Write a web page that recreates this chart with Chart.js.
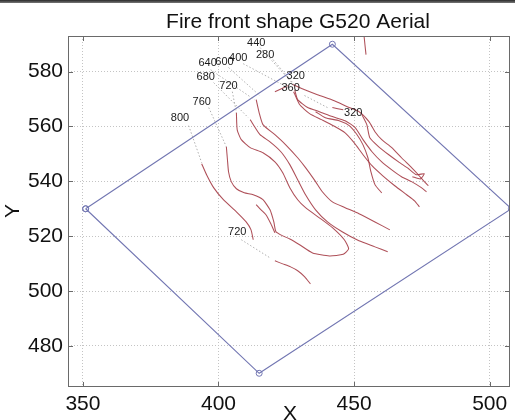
<!DOCTYPE html>
<html><head><meta charset="utf-8">
<script src="https://cdn.jsdelivr.net/npm/chart.js@4.4.1/dist/chart.umd.min.js"></script>
<style>
html,body{margin:0;padding:0;background:#fff;overflow:hidden}
#wrap{position:relative;width:515px;height:420px}
#bar{position:absolute;left:0;top:0;width:515px;height:3px;background:linear-gradient(#2a2a2a,#777)}
</style></head>
<body><div id="wrap"><canvas id="c" width="515" height="420"></canvas><div id="bar"></div></div>
<script>
// ---- ticks ----
const xTicks = [350, 400, 450, 500];
const yTicks = [480, 500, 520, 540, 560, 580];
const titleText = 'Fire front shape G520 Aerial';

// ---- area polygon (blue) ----
const areaX = [351, 442, 508, 415, 351];
const areaY = [530, 590, 530, 470, 530];

// ---- fire fronts (red) ----
const frontA1x = [393.8, 395.6, 398.2, 401.8, 406.6, 410.2, 412.0, 412.8];
const frontA1y = [546.4, 542.4, 537.7, 533.3, 528.9, 525.2, 522.3, 518.7];
const frontA2x = [420.8, 423.7, 426.6, 429.2, 431.8, 433.9];
const frontA2y = [511.0, 509.9, 508.8, 507.4, 505.2, 502.6];
const frontBCx = [402.9, 403.3, 403.7, 404.7, 406.6, 409.5, 412.8, 416.4, 419.0, 420.4, 421.2, 423.7, 426.3, 429.9, 434.7, 440.9, 446.0, 448.0, 446.4, 442.0, 437.2, 432.1, 429.2, 426.3, 423.7, 420.8, 416.4, 411.7, 408.4, 406.9, 406.6];
const frontBCy = [552.6, 547.9, 543.5, 539.9, 537.3, 535.8, 535.1, 533.3, 529.6, 525.2, 521.6, 520.1, 519.0, 516.9, 513.9, 512.8, 513.4, 515.4, 518.7, 523.1, 526.7, 530.4, 533.3, 537.7, 543.1, 547.1, 550.4, 552.3, 555.2, 558.8, 565.0];
const frontInx = [413.9, 415.7, 417.5, 419.3, 420.8];
const frontIny = [531.5, 529.6, 527.8, 524.5, 521.2];
const frontDx = [411.7, 412.8, 415.3, 419.0, 423.0, 426.3, 429.2, 432.1, 435.8, 440.2, 445.6, 451.8, 457.7, 462.4];
const frontDy = [562.5, 560.7, 557.0, 554.4, 550.8, 546.1, 540.6, 535.1, 529.6, 525.2, 521.6, 518.3, 516.1, 514.3];
const frontEx = [413.9, 415.0, 416.4, 420.8, 424.8, 429.2, 432.1, 435.8, 438.3, 442.0, 446.7, 451.8, 457.7, 463.2];
const frontEy = [569.8, 565.0, 560.7, 557.0, 553.3, 548.6, 545.0, 539.9, 536.2, 532.5, 530.4, 528.2, 525.2, 522.3];
const frontR1x = [427.4, 431.8, 436.5, 442.7, 447.5, 451.8, 455.5, 457.7, 460.2, 463.9, 467.5, 471.2, 473.7, 475.9, 477.4];
const frontR1y = [575.3, 573.4, 571.6, 569.4, 567.2, 565.4, 561.8, 558.1, 555.2, 552.3, 548.6, 545.0, 542.4, 539.9, 538.4];
const frontR2x = [428.1, 429.2, 432.9, 437.2, 442.0, 446.7, 450.4, 453.3, 456.6, 460.2, 463.9, 467.5, 471.2, 474.8, 476.7];
const frontR2y = [573.4, 569.8, 566.9, 565.4, 563.6, 562.1, 559.6, 555.2, 550.8, 547.1, 544.2, 541.7, 539.9, 537.7, 536.2];
const frontR3x = [427.7, 429.9, 433.6, 438.0, 442.3, 446.7, 450.0, 453.3, 456.6, 460.6, 465.0, 469.4, 472.3, 474.1];
const frontR3y = [572.7, 568.0, 564.7, 562.5, 560.3, 557.7, 554.1, 549.7, 545.7, 542.0, 538.4, 535.1, 532.9, 530.7];
const frontR4x = [435.8, 439.4, 444.5, 448.2, 451.1, 453.3, 455.1, 456.2, 457.7, 460.2];
const frontR4y = [565.4, 563.2, 562.1, 560.3, 557.0, 553.3, 548.6, 543.5, 538.8, 535.8];
const frontR5x = [452.9, 454.7, 455.8, 459.1, 462.8, 466.4, 470.1, 473.0, 475.9, 474.5, 471.5];
const frontR5y = [564.3, 560.7, 555.9, 552.6, 549.7, 547.1, 544.6, 542.4, 542.8, 540.9, 541.7];
const frontS1x = [442.0, 446.0];
const frontS1y = [566.9, 566.1];
const frontS2x = [420.8, 425.6];
const frontS2y = [572.7, 574.9];
const frontS3x = [453.7, 454.0, 454.4];
const frontS3y = [592.8, 589.9, 586.2];

// ---- time labels ----
const labelText = ['440', '640', '600', '400', '280', '680', '720', '760', '800', '320', '360', '320', '720'];
const labelX = [413.9, 396.0, 402.2, 407.3, 417.2, 395.3, 403.7, 393.8, 385.8, 428.5, 426.6, 449.7, 406.9];
const labelY = [590.6, 583.3, 583.7, 585.1, 586.2, 578.2, 574.9, 569.0, 563.2, 578.5, 574.2, 565.0, 521.6];

// ---- dotted leader lines (start/end) ----
const leadX0 = [389.0, 396.4, 405.1, 398.2, 397.1, 403.7, 409.1, 415.3, 420.1, 440.2, 408.4];
const leadY0 = [560.3, 566.9, 572.7, 576.0, 580.7, 581.5, 582.9, 588.8, 584.4, 566.9, 518.7];
const leadX1 = [393.8, 402.9, 406.6, 411.0, 413.2, 415.3, 425.6, 427.4, 427.7, 431.1, 419.0];
const leadY1 = [546.8, 552.6, 565.0, 563.2, 569.8, 571.2, 574.2, 575.6, 575.6, 571.6, 512.1];

const zip = (xs, ys) => xs.map((x, i) => ({x, y: ys[i]}));
const RED = 'rgba(165,60,70,0.9)';
const BLUE = '#7276b2';

const datasets = [];
leadX0.forEach((x0, i) => {
  datasets.push({data: [{x: x0, y: leadY0[i]}, {x: leadX1[i], y: leadY1[i]}],
    showLine: true, borderColor: '#b0b0b0', borderWidth: 1, borderDash: [1.5, 2], pointRadius: 0});
});
[[frontA1x, frontA1y], [frontA2x, frontA2y], [frontBCx, frontBCy], [frontInx, frontIny],
 [frontDx, frontDy], [frontEx, frontEy], [frontR1x, frontR1y], [frontR2x, frontR2y],
 [frontR3x, frontR3y], [frontR4x, frontR4y], [frontR5x, frontR5y], [frontS1x, frontS1y],
 [frontS2x, frontS2y], [frontS3x, frontS3y]].forEach(([xs, ys]) => {
  datasets.push({data: zip(xs, ys), showLine: true, borderColor: RED, borderWidth: 1.05,
    pointRadius: 0, tension: 0.18});
});
datasets.push({data: zip(areaX, areaY), showLine: true, borderColor: BLUE, borderWidth: 1.1,
  pointRadius: 3, pointBorderColor: BLUE, pointBackgroundColor: 'rgba(0,0,0,0)', pointBorderWidth: 1,
  tension: 0, clip: 0});

const FONT = '"Liberation Sans", Arial, Helvetica, sans-serif';

const decor = {
  id: 'decor',
  afterDraw(chart) {
    const {ctx, chartArea: a, scales: {x, y}} = chart;
    ctx.save();
    // frame
    ctx.strokeStyle = '#6a6a6a';
    ctx.lineWidth = 1;
    ctx.strokeRect(a.left + 0.5, a.top + 0.5, a.right - a.left - 1, a.bottom - a.top - 1);
    // inner ticks
    ctx.beginPath();
    xTicks.forEach(v => {
      const px = Math.round(x.getPixelForValue(v)) + 0.5;
      ctx.moveTo(px, a.bottom); ctx.lineTo(px, a.bottom - 5);
      ctx.moveTo(px, a.top); ctx.lineTo(px, a.top + 5);
    });
    yTicks.forEach(v => {
      const py = Math.round(y.getPixelForValue(v)) + 0.5;
      ctx.moveTo(a.left, py); ctx.lineTo(a.left + 5, py);
      ctx.moveTo(a.right, py); ctx.lineTo(a.right - 5, py);
    });
    ctx.stroke();
    // time labels
    ctx.fillStyle = '#1a1a1a';
    ctx.font = '11px ' + FONT;
    ctx.textAlign = 'center';
    ctx.textBaseline = 'middle';
    labelText.forEach((t, i) => {
      ctx.fillText(t, x.getPixelForValue(labelX[i]), y.getPixelForValue(labelY[i]));
    });
    // title
    ctx.fillStyle = '#111';
    ctx.font = '21px ' + FONT;
    ctx.fillText(titleText, 298, 22);
    // axis titles
    ctx.fillText('X', 290, 414);
    ctx.save();
    ctx.translate(13, 211);
    ctx.rotate(-Math.PI / 2);
    ctx.fillText('Y', 0, 0);
    ctx.restore();
    ctx.restore();
  }
};

new Chart(document.getElementById('c'), {
  type: 'scatter',
  data: {datasets},
  plugins: [decor],
  options: {
    responsive: false,
    animation: false,
    devicePixelRatio: 1,
    layout: {padding: {top: 36, right: 1, left: 0, bottom: 0}},
    plugins: {legend: {display: false}, tooltip: {enabled: false}, title: {display: false}},
    scales: {
      x: {
        type: 'linear', min: 344.5, max: 507.5,
        afterBuildTicks: s => { s.ticks = xTicks.map(v => ({value: v})); },
        afterFit: s => { s.height = 33; },
        grid: {color: '#c4c4c4', lineWidth: 1, drawTicks: false},
        border: {display: false, dash: [1, 2]},
        ticks: {padding: 5, color: '#111', font: {size: 21, family: FONT}, maxRotation: 0,
          callback: v => String(v)}
      },
      y: {
        type: 'linear', min: 465, max: 593,
        afterBuildTicks: s => { s.ticks = yTicks.map(v => ({value: v})); },
        afterFit: s => { s.width = 68; },
        grid: {color: '#c4c4c4', lineWidth: 1, drawTicks: false},
        border: {display: false, dash: [1, 2]},
        ticks: {padding: 5, color: '#111', font: {size: 21, family: FONT},
          callback: v => String(v)}
      }
    }
  }
});
</script>
</body></html>
